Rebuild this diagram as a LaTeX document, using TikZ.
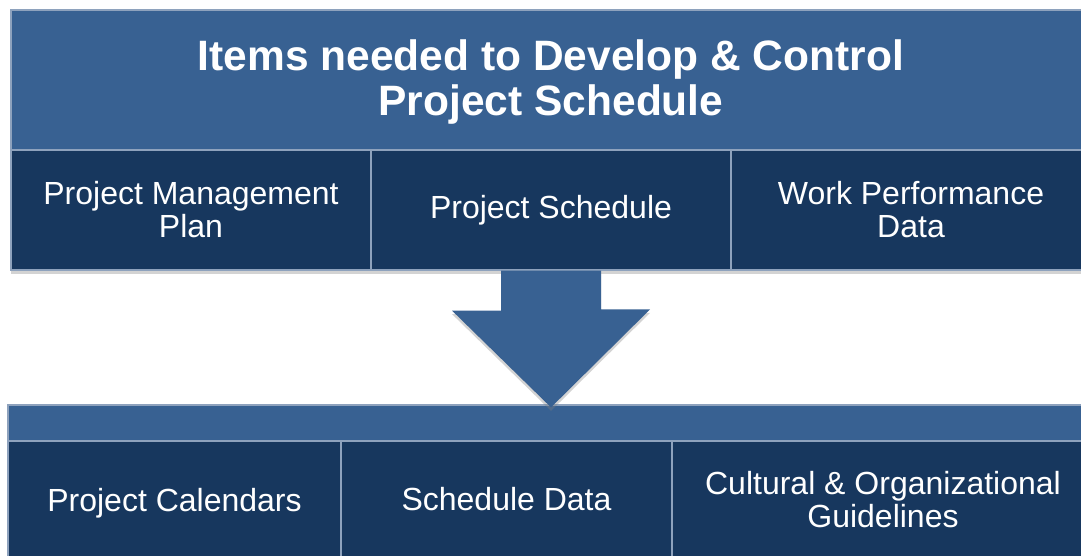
\documentclass[tikz,border=0pt]{standalone}
\usepackage{fontspec}
\setmainfont{Liberation Sans}
\usetikzlibrary{shadows}
\definecolor{headblue}{HTML}{386192}
\definecolor{cellblue}{HTML}{17375E}
\definecolor{edgeblue}{HTML}{8EA2BD}

\begin{document}
\begin{tikzpicture}[x=1pt,y=-1pt,
	head/.style={rectangle,draw=edgeblue,line width=1.2pt,fill=headblue,text=white,inner sep=0pt,align=center},
	cell/.style={rectangle,draw=edgeblue,line width=1.2pt,fill=cellblue,text=white,inner sep=0pt,align=center,font=\fontsize{32}{33}\selectfont},
	softshadow/.style={drop shadow={shadow xshift=0pt,shadow yshift=-3.5pt,opacity=0.35}}]
	\useasboundingbox (0,0) rectangle (1081,556);
	\clip (0,0) rectangle (1081,556);

	\node[head,minimum width=1080pt,minimum height=144pt,font=\bfseries\fontsize{42.5}{45}\selectfont](title) at (551,82) {Items needed to Develop \& Control\\Project Schedule};
	\node[cell,softshadow,minimum width=360pt,minimum height=120pt,text depth=1pt](pmp) at (191,210) {Project Management\\Plan};
	\node[cell,softshadow,minimum width=360pt,minimum height=120pt](sched) at (551,210) {Project Schedule};
	\node[cell,softshadow,minimum width=360pt,minimum height=120pt,text depth=1pt](wpd) at (911,210) {Work Performance\\Data};

	\node[head,minimum width=1086pt,minimum height=36pt](low) at (551,423) {};
	\node[cell,minimum width=333pt,minimum height=117pt,text depth=0pt](cal) at (174.5,499.5) {Project Calendars};
	\node[cell,minimum width=331pt,minimum height=117pt](data) at (506.5,499.5) {Schedule Data};
	\node[cell,minimum width=422pt,minimum height=117pt](guide) at (883,499.5) {Cultural \& Organizational\\Guidelines};

	% big arrow from the top row down to the lower bar
	\fill[headblue,softshadow] ([xshift=-50pt]sched.south) -- ++(0,40) -- ++(-49,0) -- ([yshift=-3pt]low.north) -- ++(99,-98) -- ++(-49,0) -- ([xshift=50pt]sched.south) -- cycle;
\end{tikzpicture}
\end{document}
